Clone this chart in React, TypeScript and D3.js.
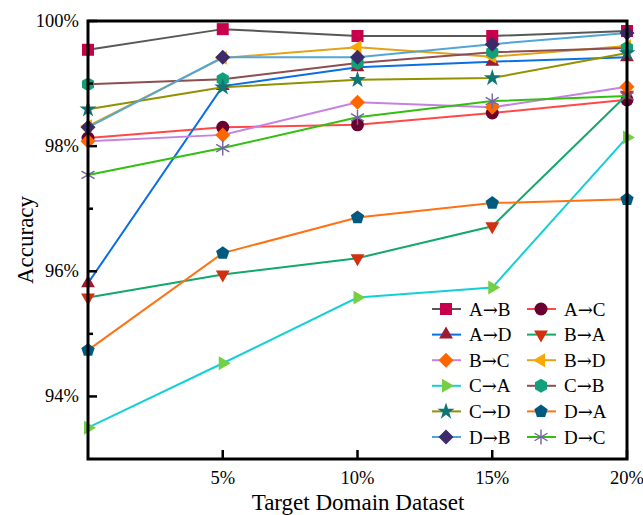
import React from "react";
import * as d3 from "d3";

const xValues = [0, 5, 10, 15, 20];
const xTickValues = [5, 10, 15, 20];
const yTickValues = [94, 96, 98, 100];
const yMinorTicks = [95, 97, 99];

const seriesNames = ["A→B", "A→C", "A→D", "B→A", "B→C", "B→D", "C→A", "C→B", "C→D", "D→A", "D→B", "D→C"];
const aToB = [99.54, 99.87, 99.76, 99.76, 99.84];
const aToC = [98.13, 98.3, 98.34, 98.53, 98.74];
const aToD = [95.81, 98.96, 99.26, 99.35, 99.42];
const bToA = [95.58, 95.95, 96.21, 96.72, 98.82];
const bToC = [98.08, 98.18, 98.7, 98.62, 98.95];
const bToD = [98.32, 99.41, 99.58, 99.43, 99.6];
const cToA = [93.5, 94.53, 95.58, 95.74, 98.14];
const cToB = [98.99, 99.07, 99.33, 99.5, 99.57];
const cToD = [98.59, 98.94, 99.06, 99.09, 99.49];
const dToA = [94.74, 96.29, 96.86, 97.09, 97.15];
const dToB = [98.3, 99.42, 99.42, 99.63, 99.81];
const dToC = [97.54, 97.97, 98.46, 98.72, 98.8];

const seriesValues = [aToB, aToC, aToD, bToA, bToC, bToD, cToA, cToB, cToD, dToA, dToB, dToC];
const lineColors = ["#585858", "#ff4848", "#0a6fe0", "#12a86a", "#c682e2", "#e2a21a", "#14d0d6", "#8c4e4e", "#929200", "#ff7214", "#52a6d6", "#32c010"];
const markerColors = ["#c8004c", "#6a0030", "#9c1a32", "#d23010", "#ff6600", "#f8a800", "#74d042", "#12a07a", "#0f7676", "#005a80", "#3b2b69", "#7462a2"];
const markerShapes = ["square", "circle", "triUp", "triDown", "diamond", "triLeft", "triRight", "hexagon", "star", "pentagon", "diamond", "asterisk"];

const W = 643, H = 515;
const L = 88, R = 627, T = 21, B = 459;

function polyPath(n: number, r: number, rot: number) {
  const pts: string[] = [];
  for (let i = 0; i < n; i++) {
    const a = rot + (i * 2 * Math.PI) / n;
    pts.push(`${(r * Math.cos(a)).toFixed(2)},${(r * Math.sin(a)).toFixed(2)}`);
  }
  return "M" + pts.join("L") + "Z";
}

function Marker({ shape, x, y, color }: { shape: string; x: number; y: number; color: string }) {
  const t = `translate(${x},${y})`;
  switch (shape) {
    case "square":
      return <rect x={x - 6} y={y - 6} width={12} height={12} fill={color} />;
    case "circle":
      return <circle cx={x} cy={y} r={6.5} fill={color} />;
    case "triUp":
      return <path transform={t} d={polyPath(3, 8, -Math.PI / 2)} fill={color} />;
    case "triDown":
      return <path transform={t} d={polyPath(3, 8, Math.PI / 2)} fill={color} />;
    case "triLeft":
      return <path transform={t} d={polyPath(3, 8, Math.PI)} fill={color} />;
    case "triRight":
      return <path transform={t} d={polyPath(3, 8, 0)} fill={color} />;
    case "diamond":
      return <path transform={t} d={polyPath(4, 7.5, 0)} fill={color} />;
    case "hexagon":
      return <path transform={t} d={polyPath(6, 7, -Math.PI / 2)} fill={color} />;
    case "pentagon":
      return <path transform={t} d={polyPath(5, 7, -Math.PI / 2)} fill={color} />;
    case "star":
      return <path transform={t} d={d3.symbol(d3.symbolStar, 90)() || ""} fill={color} />;
    case "asterisk": {
      const r = 7.5;
      const angs = [90, 30, 150];
      return (
        <g transform={t} stroke={color} strokeWidth={1.4}>
          {angs.map((a) => {
            const rad = (a * Math.PI) / 180;
            return <line key={a} x1={-r * Math.cos(rad)} y1={-r * Math.sin(rad)} x2={r * Math.cos(rad)} y2={r * Math.sin(rad)} />;
          })}
        </g>
      );
    }
    default:
      return null;
  }
}

export default function App() {
  const x = d3.scaleLinear().domain([0, 20]).range([L, R]);
  const y = d3.scaleLinear().domain([93, 100]).range([B, T]);
  const line = d3
    .line<number>()
    .x((_, i) => x(xValues[i]))
    .y((d) => y(d));
  const font = "'Liberation Serif', 'Times New Roman', serif";

  const legendRowY = (i: number) => 309 + i * 25.6;
  const legendColX = [432, 527];

  return (
    <div style={{ position: "absolute", left: 0, top: 0 }}>
      <svg width={W} height={H} style={{ display: "block", background: "#fff" }} fontFamily={font}>
        {seriesValues.map((vals, si) => (
          <g key={si}>
            <path d={line(vals) || ""} fill="none" stroke={lineColors[si]} strokeWidth={2} />
            {vals.map((v, i) => (
              <Marker key={i} shape={markerShapes[si]} x={x(xValues[i])} y={y(v)} color={markerColors[si]} />
            ))}
          </g>
        ))}
        {/* frame */}
        <rect x={L} y={T} width={R - L} height={B - T} fill="none" stroke="#000" strokeWidth={3} />
        {/* y ticks */}
        {yTickValues.map((v) => (
          <g key={v}>
            <line x1={L} x2={L + 9} y1={y(v)} y2={y(v)} stroke="#000" strokeWidth={2.5} />
            <text x={79} y={y(v) + 6} textAnchor="end" fontSize={18.5}>
              {v}%
            </text>
          </g>
        ))}
        {yMinorTicks.map((v) => (
          <line key={v} x1={L} x2={L + 5} y1={y(v)} y2={y(v)} stroke="#000" strokeWidth={2.5} />
        ))}
        {/* x ticks */}
        {xTickValues.map((v) => (
          <g key={v}>
            <line x1={x(v)} x2={x(v)} y1={B} y2={B - 9} stroke="#000" strokeWidth={2.5} />
            <text x={x(v)} y={484} textAnchor="middle" fontSize={18.5}>
              {v}%
            </text>
          </g>
        ))}
        <text x={358} y={510} textAnchor="middle" fontSize={23}>
          Target Domain Dataset
        </text>
        <text transform={`translate(33,240) rotate(-90)`} textAnchor="middle" fontSize={23}>
          Accuracy
        </text>
        {/* legend */}
        {seriesNames.map((name, si) => {
          const row = Math.floor(si / 2);
          const col = si % 2;
          const lx = legendColX[col];
          const ly = legendRowY(row);
          const [from, to] = name.split("→");
          return (
            <g key={name}>
              <line x1={lx} x2={lx + 29} y1={ly} y2={ly} stroke={lineColors[si]} strokeWidth={2} />
              <Marker shape={markerShapes[si]} x={lx + 14} y={ly} color={markerColors[si]} />
              <text x={lx + 37} y={ly + 6.5} fontSize={19}>
                {from}
                <tspan fontFamily="'DejaVu Serif', serif" fontSize={18} fontWeight={300}>→</tspan>
                {to}
              </text>
            </g>
          );
        })}
      </svg>
    </div>
  );
}
